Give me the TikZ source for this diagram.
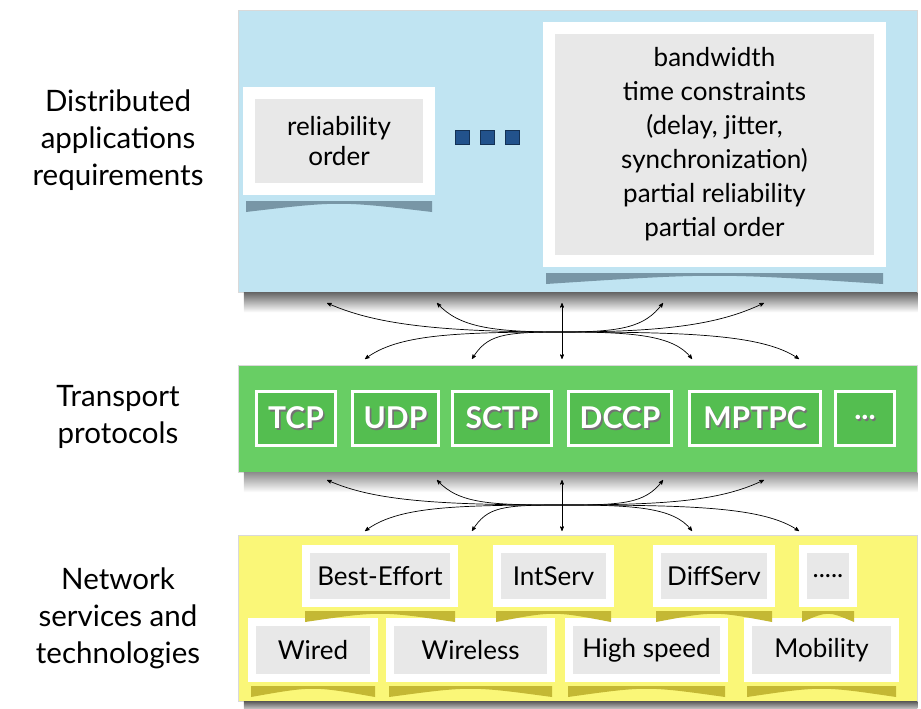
\documentclass[tikz,border=0pt]{standalone}
\usepackage{fontspec}
\setmainfont{Lato}
\usetikzlibrary{arrows,calc,positioning}

\definecolor{applblue}{RGB}{192,228,242}
\definecolor{transgreen}{RGB}{104,206,100}
\definecolor{protgreen}{RGB}{84,190,80}
\definecolor{netyellow}{RGB}{250,247,120}
\definecolor{cardgray}{RGB}{232,232,232}
\definecolor{dotblue}{RGB}{34,82,140}
\definecolor{blueshade}{RGB}{120,150,166}
\definecolor{yellowshade}{RGB}{196,184,52}

% white text with a dark drop shadow
\newcommand{\embossed}[1]{\makebox[0pt][l]{\hspace{1.6pt}\raisebox{-1.6pt}{\color{black!55}#1}}#1}
% curled paper shadow under a card (node, colour, half border width)
\newcommand{\curlshade}[3]{%
  \fill[#2] ($(#1.south west)+(3,-#3)$) -- ($(#1.south west)+(3,-#3-11)$)
    .. controls ($(#1.south)+(0,-#3)$) .. ($(#1.south east)+(-3,-#3-11)$)
    -- ($(#1.south east)+(-3,-#3)$) -- cycle;}

\begin{document}
\begin{tikzpicture}[x=1pt,y=1pt,>=stealth',
                    link/.style={<->,line width=0.7pt},
                    lbl/.style={align=center,font=\fontsize{29.5}{37}\selectfont}]
  \tikzstyle{panel}=[draw=black!15,line width=0.5pt,inner sep=0pt,minimum width=679]
  \tikzstyle{card}=[draw=white,line width=8pt,fill=cardgray,inner sep=0pt,align=center,
                    font=\fontsize{26}{30}\selectfont]
  \tikzstyle{bigcard}=[card,line width=12pt]
  \tikzstyle{prot}=[draw=white,line width=3pt,fill=protgreen,text=white,inner sep=0pt,
                    minimum height=54,font=\fontsize{30}{30}\selectfont\bfseries]
  \tikzstyle{sq}=[fill=dotblue,draw=dotblue!60!black,line width=1pt,minimum size=14,inner sep=0pt]

  \useasboundingbox (0,0) rectangle (921,-709);

  % layers
  \node[panel,fill=applblue,minimum height=282]   (appl)   at (577.5,-151) {};
  \node[panel,fill=transgreen,minimum height=107] (transp) at (577.5,-418.5) {};
  \node[panel,fill=netyellow,minimum height=166]  (netw)   at (577.5,-618) {};
  \shade[top color=black!60,bottom color=white] ($(appl.south west)+(6,0)$) rectangle ($(appl.south east)+(0,-20)$);
  \shade[top color=black!45,bottom color=white] ($(transp.south west)+(6,0)$) rectangle ($(transp.south east)+(0,-20)$);
  \shade[top color=black!65,bottom color=black!20] ($(netw.south west)+(6,0)$) rectangle ($(netw.south east)+(0,-8)$);

  \node[lbl] (lappl)   at (118,-140) {Distributed\\applications\\requirements};
  \node[lbl] (ltransp) at (118,-417) {Transport\\protocols};
  \node[lbl] (lnetw)   at (118,-618) {Network\\services and\\technologies};

  % application requirements
  \node[bigcard,minimum width=180,minimum height=96] (rel) at (339,-141) {reliability\\order};
  \node[bigcard,minimum width=331,minimum height=233,font=\fontsize{26}{34}\selectfont] (req) at (714.5,-144.5)
       {bandwidth\\time constraints\\(delay, jitter,\\synchronization)\\partial reliability\\partial order};
  \curlshade{rel}{blueshade}{6}
  \curlshade{req}{blueshade}{6}
  \node[sq] (sq1) at (462,-137) {};
  \node[sq] (sq2) at (487,-137) {};
  \node[sq] (sq3) at (512,-137) {};

  % transport protocols
  \node[prot,minimum width=79]  (tcp)   at (296,-418.5)   {\embossed{TCP}};
  \node[prot,minimum width=86]  (udp)   at (395.5,-418.5) {\embossed{UDP}};
  \node[prot,minimum width=99]  (sctp)  at (502,-418.5)   {\embossed{SCTP}};
  \node[prot,minimum width=103] (dccp)  at (620,-418.5)   {\embossed{DCCP}};
  \node[prot,minimum width=131] (mptpc) at (755,-418.5)   {\embossed{MPTPC}};
  \node[prot,minimum width=59]  (pdots) at (865,-418.5)   {\embossed{...}};

  % network services
  \node[card,minimum width=148,minimum height=54] (beff)     at (380,-576)   {Best-Effort};
  \node[card,minimum width=113,minimum height=54] (intserv)  at (553.5,-576) {IntServ};
  \node[card,minimum width=114,minimum height=54] (diffserv) at (714,-576)   {DiffServ};
  \node[card,minimum width=50,minimum height=54]  (ndots)    at (828,-576)   {.....};
  \node[card,minimum width=122,minimum height=56] (wired)    at (313,-650)   {Wired};
  \node[card,minimum width=161,minimum height=56] (wireless) at (470.5,-650) {Wireless};
  \node[card,minimum width=155,minimum height=56] (hspeed)   at (646.5,-650) {High speed};
  \node[card,minimum width=147,minimum height=56] (mobil)    at (821.5,-650) {Mobility};
  \foreach \c in {beff,intserv,diffserv,ndots,wired,wireless,hspeed,mobil}
    \curlshade{\c}{yellowshade}{4};

  % mappings between layers
  \foreach \yt/\yc/\yb/\n in {303/332/359/a, 480/505/531/b} {
    \coordinate (c\n) at (562,-\yc);
    \foreach \x [count=\i] in {327,437,562,663,764} \coordinate (t\n\i) at (\x,-\yt);
    \foreach \x [count=\i] in {365,472,562,692,799} \coordinate (b\n\i) at (\x,-\yb);
    \draw[link] (t\n1) .. controls +(45,-20) and +(-130,0) .. (c\n) .. controls +(130,0) and +(-35,24) .. (b\n5);
    \draw[link] (t\n2) .. controls +(22,-24) and +(-70,0) .. (c\n) .. controls +(70,0) and +(-18,24) .. (b\n4);
    \draw[link] (t\n4) .. controls +(-18,-24) and +(60,0) .. (c\n) .. controls +(-60,0) and +(15,24) .. (b\n2);
    \draw[link] (t\n5) .. controls +(-42,-20) and +(110,0) .. (c\n) .. controls +(-110,0) and +(32,24) .. (b\n1);
    \draw[link] (t\n3) -- (b\n3);
  }
\end{tikzpicture}
\end{document}
